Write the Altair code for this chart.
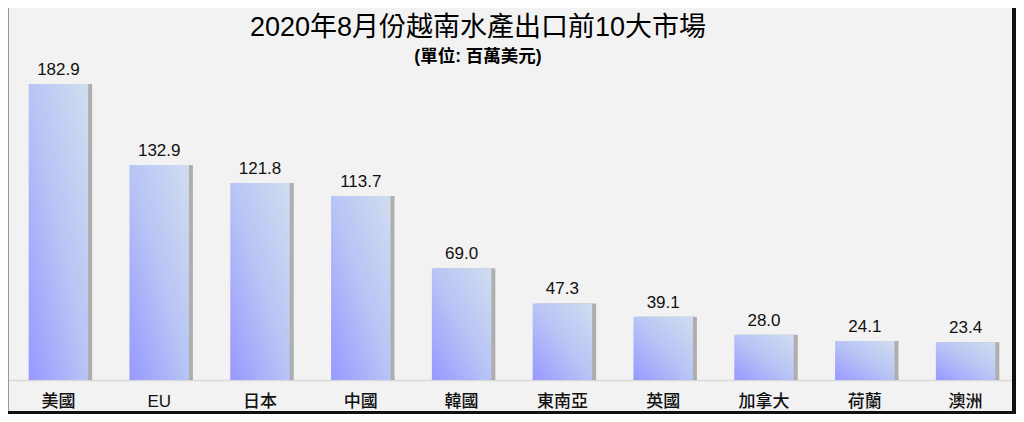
import altair as alt
import pandas as pd

markets = ["美國", "EU", "日本", "中國", "韓國", "東南亞", "英國", "加拿大", "荷蘭", "澳洲"]
values = [182.9, 132.9, 121.8, 113.7, 69.0, 47.3, 39.1, 28.0, 24.1, 23.4]

df = pd.DataFrame({"market": markets, "value": values})

FONT = "Liberation Sans, Noto Sans CJK TC"

x_enc = alt.X("market:N", sort=None, title=None,
              scale=alt.Scale(paddingInner=0.41, paddingOuter=0.205),
              axis=alt.Axis(labelAngle=0, ticks=False, domainColor="#d9d9d9", domainWidth=1.5,
                            labelFont=FONT, labelFontSize=17, labelColor="#111111",
                            labelFontWeight=500, labelPadding=13, grid=False))
y_enc = alt.Y("value:Q", title=None, axis=None,
              scale=alt.Scale(domain=[0, 192.8], nice=False))

base = alt.Chart(df)

shadow = base.mark_bar(xOffset=4, color="#808080", opacity=0.6).encode(x=x_enc, y=y_enc)

bars = base.mark_bar(
    color=alt.Gradient(
        gradient="linear",
        x1=0, y1=1, x2=1, y2=0,
        stops=[alt.GradientStop(color="#9898ff", offset=0),
               alt.GradientStop(color="#b8c4f5", offset=0.5),
               alt.GradientStop(color="#d0ddef", offset=1)],
    )
).encode(x=x_enc, y=y_enc)

labels = base.mark_text(baseline="alphabetic", dy=-9, font=FONT, fontSize=17, color="#111111").encode(
    x=x_enc, y=y_enc, text=alt.Text("value:Q", format=".1f"))

frame_right = alt.Chart(df).mark_rule(color="#111111", strokeWidth=3).encode(
    x=alt.value(1006), y=alt.value(-60), y2=alt.value(346.5))
frame_bottom = alt.Chart(df).mark_rule(color="#111111", strokeWidth=3).encode(
    x=alt.value(0), x2=alt.value(1008), y=alt.value(345))
frame_left = alt.Chart(df).mark_rule(color="#9a9a9a", strokeWidth=1).encode(
    x=alt.value(0.5), y=alt.value(-60), y2=alt.value(346))

chart = alt.layer(shadow, bars, labels, frame_left, frame_right, frame_bottom).properties(
    width=1008, height=312,
    title=alt.TitleParams(
        text="2020年8月份越南水產出口前10大市場",
        subtitle="(單位: 百萬美元)",
        font=FONT, fontSize=27, fontWeight="normal", color="#000000",
        subtitleFont=FONT, subtitleFontSize=17.5, subtitleFontWeight="bold", subtitleColor="#000000",
        subtitlePadding=6, anchor="middle", dx=-34, dy=3, offset=-57,
    ),
    autosize=alt.AutoSizeParams(type="none"),
    padding={"left": 0, "right": 0, "top": 60, "bottom": 34},
    background="#f2f2f2",
).configure_view(stroke=None)

chart.save("out.html", embed_options={"renderer": "svg", "actions": False})
